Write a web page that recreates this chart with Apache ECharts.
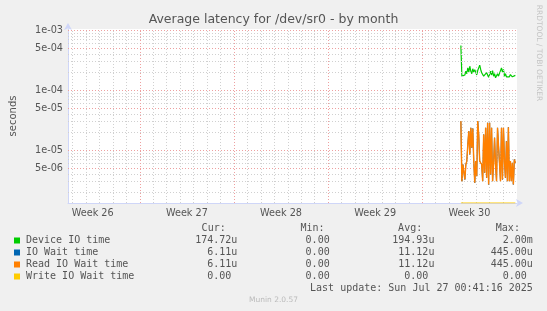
<!DOCTYPE html>
<html><head><meta charset="utf-8">
<script src="https://cdn.jsdelivr.net/npm/echarts@6/dist/echarts.min.js"></script>
<style>html,body{margin:0;padding:0;background:#f0f0f0}#c{width:547px;height:311px}</style>
</head><body><div id="c"></div>
<script>
// ---- data ----
const chartTitle = 'Average latency for /dev/sr0 - by month';
const yAxisName = 'seconds';
const weekLabels = ['Week 26', 'Week 27', 'Week 28', 'Week 29', 'Week 30'];
const yTickValues = [1e-3, 5e-4, 1e-4, 5e-5, 1e-5, 5e-6];
const sampleStart = Date.UTC(2025, 6, 23, 20, 53);
const sampleStepMin = 106;
const deviceIO = [5.5e-4, 1.70e-4, 1.63e-4, 1.81e-4, 1.78e-4, 2.06e-4, 1.87e-4, 2.34e-4, 1.99e-4, 2.49e-4,
  2.06e-4, 1.87e-4, 2.26e-4, 1.99e-4, 2.17e-4, 1.99e-4, 1.78e-4, 2.11e-4, 2.34e-4, 2.59e-4,
  2.20e-4, 1.94e-4, 1.99e-4, 1.70e-4, 1.81e-4, 1.60e-4, 1.94e-4, 1.87e-4, 1.63e-4, 1.81e-4,
  2.06e-4, 1.78e-4, 2.11e-4, 1.70e-4, 1.87e-4, 1.60e-4, 1.63e-4, 1.87e-4, 1.70e-4, 1.81e-4,
  1.66e-4, 2.34e-4, 1.99e-4, 2.20e-4, 1.70e-4, 1.87e-4, 1.66e-4, 1.63e-4, 1.66e-4, 1.66e-4,
  1.81e-4, 1.87e-4, 1.66e-4, 1.63e-4, 1.70e-4, 1.75e-4];
const readIOWait = [3.03e-5, 3.03e-6, 5.73e-6, 5.86e-6, 3.22e-6, 5.73e-6, 6.52e-6, 1.24e-5, 2.06e-5, 8.41e-6,
  2.34e-5, 1.09e-5, 2.28e-5, 6.52e-6, 2.84e-6, 6.52e-6, 3.67e-6, 3.03e-5, 1.81e-5, 6.52e-6,
  6.52e-6, 5.73e-6, 3.03e-6, 1.81e-5, 4.16e-6, 2.34e-5, 3.44e-6, 2.84e-5, 2.66e-6, 2.84e-5,
  3.91e-6, 2.34e-5, 3.03e-6, 5.73e-6, 1.60e-5, 5.73e-6, 3.03e-6, 2.34e-5, 2.20e-5, 2.49e-5,
  3.03e-6, 2.34e-5, 3.22e-6, 2.34e-5, 6.52e-6, 3.44e-6, 1.40e-5, 3.03e-6, 2.40e-5, 3.03e-6,
  6.52e-6, 3.03e-6, 6.10e-6, 2.66e-6, 6.95e-6, 6.11e-6];
const ioWait = [3.03e-5, 3.03e-6, 5.73e-6, 5.86e-6, 3.22e-6, 5.73e-6, 6.52e-6, 1.24e-5, 2.06e-5, 8.41e-6,
  2.34e-5, 1.09e-5, 2.28e-5, 6.52e-6, 2.84e-6, 6.52e-6, 3.67e-6, 3.03e-5, 1.81e-5, 6.52e-6,
  6.52e-6, 5.73e-6, 3.03e-6, 1.81e-5, 4.16e-6, 2.34e-5, 3.44e-6, 2.84e-5, 2.66e-6, 2.84e-5,
  3.91e-6, 2.34e-5, 3.03e-6, 5.73e-6, 1.60e-5, 5.73e-6, 3.03e-6, 2.34e-5, 2.20e-5, 2.49e-5,
  3.03e-6, 2.34e-5, 3.22e-6, 2.34e-5, 6.52e-6, 3.44e-6, 1.40e-5, 3.03e-6, 2.40e-5, 3.03e-6,
  6.52e-6, 3.03e-6, 6.10e-6, 2.66e-6, 6.95e-6, 6.11e-6];
const writeIOWait = [0, 0, 0, 0, 0, 0, 0, 0, 0, 0, 0, 0, 0, 0, 0, 0, 0, 0, 0, 0, 0, 0, 0, 0, 0, 0, 0, 0,
  0, 0, 0, 0, 0, 0, 0, 0, 0, 0, 0, 0, 0, 0, 0, 0, 0, 0, 0, 0, 0, 0, 0, 0, 0, 0, 0, 0];
const legendNames = ['Device IO time', 'IO Wait time', 'Read IO Wait time', 'Write IO Wait time'];
const legendHeaders = ['Cur:', 'Min:', 'Avg:', 'Max:'];
const curValues = ['174.72u', '6.11u', '6.11u', '0.00 '];
const minValues = ['0.00 ', '0.00 ', '0.00 ', '0.00 '];
const avgValues = ['194.93u', '11.12u', '11.12u', '0.00 '];
const maxValues = ['2.00m', '445.00u', '445.00u', '0.00 '];
const lastUpdate = 'Last update: Sun Jul 27 00:41:16 2025';
const footer = 'Munin 2.0.57';
const sideText = 'RRDTOOL / TOBI OETIKER';

// ---- layout / style ----
const colors = ['#00CC00', '#0066B3', '#FF8000', '#FFCC00'];
const DAY = 86400000;
const weekStart = Date.UTC(2025, 5, 23);
const xMin = Date.UTC(2025, 5, 24, 15, 53);
const xMax = Date.UTC(2025, 6, 28, 1, 0);
const yMax = Math.pow(10, -2.98333);
const yMin = Math.pow(10, -5.88333);
const weekMids = weekLabels.map((_, i) => weekStart + (i * 7 + 3.5) * DAY);

const vMinor = [], vMajor = [];
for (let d = 0; d <= 36; d++) {
  const t = weekStart + d * DAY;
  if (t > xMin && t < xMax - DAY * 0.1) (d % 7 === 0 ? vMajor : vMinor).push(t);
}
const hMinor = [], hMajor = [];
for (let e = -7; e <= -3; e++) for (let m = 1; m <= 9; m++) {
  const v = m * Math.pow(10, e);
  if (v > yMin && v <= yMax) ((m === 1 || m === 5) ? hMajor : hMinor).push(Math.log10(v));
}
function fmtExp(v) {
  const s = v.toExponential(0);
  const [a, b] = s.split('e');
  const sign = b[0];
  const n = Math.abs(parseInt(b, 10));
  return a + 'e' + sign + (n < 10 ? '0' + n : n);
}
const pts = arr => arr.map((v, i) => [sampleStart + i * sampleStepMin * 60000, v]);

function gridSeries(color, vs, hs) {
  return {
    type: 'line', data: [], z: 1, silent: true, animation: false, yAxisIndex: 1,
    markLine: {
      silent: true, symbol: ['none', 'none'], animation: false,
      label: { show: false },
      lineStyle: { color: color, width: 1, type: [1, 2] },
      emphasis: { disabled: true },
      data: vs.map(t => ({ xAxis: t })).concat(hs.map(v => ({ yAxis: v })))
    }
  };
}
function lineSeries(name, arr, color, z, w) {
  return {
    type: 'line', name: name, data: pts(arr), symbol: 'none', z: z, animation: false, yAxisIndex: 0,
    lineStyle: { color: color, width: w }, itemStyle: { color: color }
  };
}

const mono = '10px "DejaVu Sans Mono"';
const textColor = '#555';
const rowY = [240.5, 252.5, 264.5, 276.5];
const colEdges = [237.3, 335.7, 434.4, 532.8];
const headEdges = [225.7, 324.5, 422.2, 519.9];
const graphics = [];
function txt(text, x, y, align, font, fill, rot) {
  graphics.push({ type: 'text', x: x, y: y, rotation: rot || 0, silent: true,
    style: { text: text, font: font, fill: fill, align: align, verticalAlign: 'middle' } });
}
legendHeaders.forEach((h, i) => txt(h, headEdges[i], 228.5, 'right', mono, textColor));
legendNames.forEach((n, r) => {
  graphics.push({ type: 'rect', shape: { x: 14, y: rowY[r] - 3, width: 6, height: 6 }, style: { fill: colors[r] }, silent: true });
  txt(n, 26, rowY[r], 'left', mono, textColor);
  [curValues, minValues, avgValues, maxValues].forEach((col, c) => txt(col[r], colEdges[c], rowY[r], 'right', mono, textColor));
});
txt(lastUpdate, 532.8, 288.5, 'right', mono, textColor);
txt(footer, 273.5, 300.5, 'center', '7.5px "DejaVu Sans"', '#bbbbbb');
txt(sideText, 538.5, 53, 'center', '7.5px "DejaVu Sans"', '#c4c4c4', -Math.PI / 2);

const chart = echarts.init(document.getElementById('c'), null, { renderer: 'canvas' });
chart.setOption({
  backgroundColor: '#f0f0f0',
  animation: false,
  textStyle: { fontFamily: 'DejaVu Sans' },
  title: {
    text: chartTitle, left: 'center', top: 13, padding: 0,
    textStyle: { fontFamily: 'DejaVu Sans', fontSize: 12.5, fontWeight: 'normal', color: '#555' }
  },
  grid: { left: 65, right: 30, top: 29, bottom: 108, backgroundColor: '#ffffff', show: true, borderWidth: 0 },
  xAxis: {
    type: 'value', min: xMin, max: xMax,
    axisLine: { show: true, lineStyle: { color: '#CFD6F8', width: 1 }, symbol: ['none', 'arrow'], symbolSize: [6, 7], symbolOffset: [0, 6] },
    axisTick: { show: false },
    splitLine: { show: false },
    axisLabel: {
      customValues: weekMids, margin: 5, fontSize: 9.7, color: '#555', fontFamily: 'DejaVu Sans',
      formatter: v => weekLabels[Math.round((v - weekMids[0]) / (7 * DAY))]
    }
  },
  yAxis: [{
    type: 'log', logBase: 10, min: yMin, max: yMax,
    axisLine: { show: false }, axisTick: { show: false }, axisLabel: { show: false }, splitLine: { show: false }
  }, {
    type: 'value', position: 'left', min: Math.log10(yMin), max: Math.log10(yMax),
    name: yAxisName, nameLocation: 'middle', nameGap: 50,
    nameTextStyle: { fontFamily: 'DejaVu Sans', fontSize: 10, color: '#555' },
    axisLine: { show: true, lineStyle: { color: '#CFD6F8', width: 1 }, symbol: ['none', 'arrow'], symbolSize: [6, 7], symbolOffset: [0, 6] },
    axisTick: { show: false },
    splitLine: { show: false },
    axisLabel: {
      customValues: yTickValues.map(v => Math.log10(v)), margin: 5, fontSize: 9.7, color: '#555', fontFamily: 'DejaVu Sans',
      formatter: v => fmtExp(Math.pow(10, v))
    }
  }],
  series: [
    gridSeries('#d0d0d0', vMinor, hMinor),
    gridSeries('#eea0a0', vMajor, hMajor),
    lineSeries(legendNames[0], deviceIO, colors[0], 3, 1.2),
    lineSeries(legendNames[1], ioWait, colors[1], 4, 1),
    lineSeries(legendNames[2], readIOWait, colors[2], 5, 1.4),
    lineSeries(legendNames[3], writeIOWait.map(v => Math.max(v, yMin)), colors[3], 6, 1.2)
  ],
  graphic: graphics
});
</script>
</body></html>
